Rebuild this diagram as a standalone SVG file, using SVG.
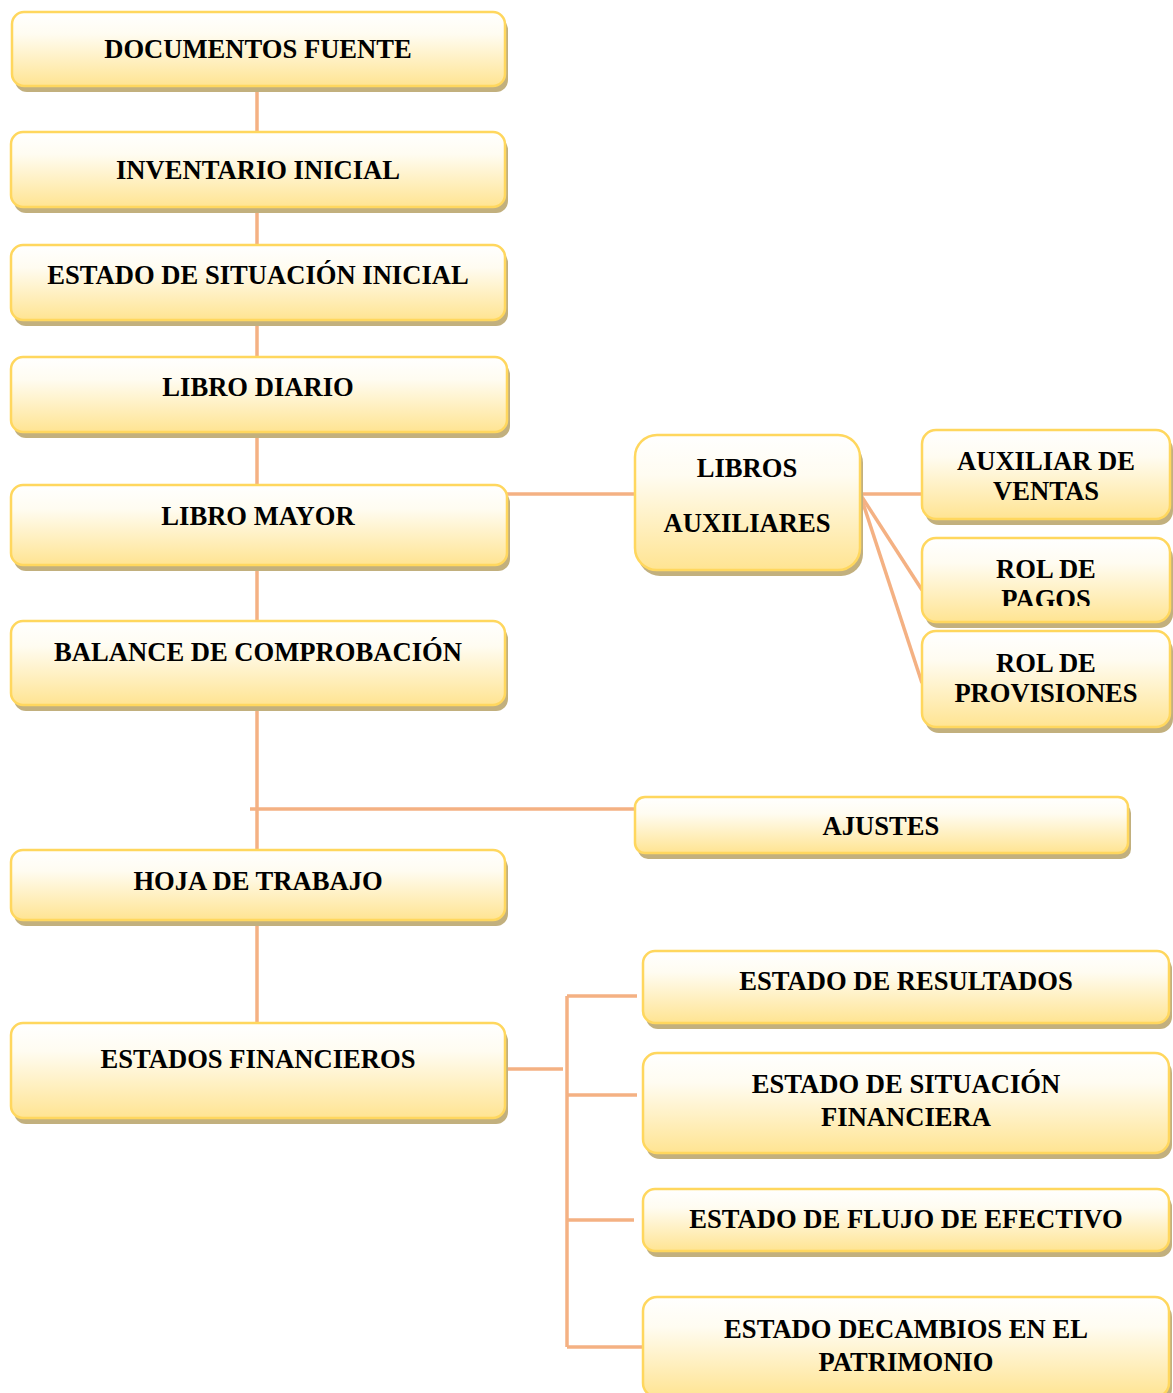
<svg xmlns="http://www.w3.org/2000/svg" width="1173" height="1393" viewBox="0 0 1173 1393">
<defs>
<linearGradient id="g" x1="0" y1="0" x2="0" y2="1">
<stop offset="0" stop-color="#ffffff"/>
<stop offset="0.3" stop-color="#fffcf1"/>
<stop offset="1" stop-color="#ffe492"/>
</linearGradient>
<filter id="sh" x="-5%" y="-10%" width="115%" height="130%">
<feGaussianBlur stdDeviation="0.6"/>
</filter>
<clipPath id="clipPagos"><rect x="922" y="538" width="250" height="68"/></clipPath>
</defs>
<style>
.box{fill:url(#g);stroke:#ffd75e;stroke-width:2.5}
.shd{fill:#c2b07e;filter:url(#sh)}
.t{font-family:"Liberation Serif","Times New Roman",serif;font-weight:bold;font-size:26.6px;fill:#000;text-anchor:middle}
.c{stroke:#f4b183;stroke-width:3.5;fill:none}
</style>
<rect width="1173" height="1393" fill="#ffffff"/>
<g id="connectors">
<line class="c" x1="257" y1="86" x2="257" y2="1023"/>
<line class="c" x1="250" y1="809" x2="636" y2="809"/>
<line class="c" x1="507" y1="494" x2="636" y2="494"/>
<line class="c" x1="860" y1="494" x2="922" y2="494"/>
<line class="c" x1="860" y1="494" x2="922" y2="590"/>
<line class="c" x1="860" y1="494" x2="922" y2="683"/>
<line class="c" x1="507" y1="1069" x2="563" y2="1069"/>
<line class="c" x1="567" y1="996" x2="567" y2="1347"/>
<line class="c" x1="567" y1="996" x2="637" y2="996"/>
<line class="c" x1="567" y1="1095" x2="637" y2="1095"/>
<line class="c" x1="567" y1="1220" x2="634" y2="1220"/>
<line class="c" x1="567" y1="1347" x2="643" y2="1347"/>
</g>
<g id="n1"><rect class="shd" x="15" y="18" width="493" height="74" rx="12"/><rect class="box" x="12" y="12" width="493" height="74" rx="12"/><text class="t" x="258" y="58">DOCUMENTOS FUENTE</text></g>
<g id="n2"><rect class="shd" x="14" y="138" width="494" height="75" rx="12"/><rect class="box" x="11" y="132" width="494" height="75" rx="12"/><text class="t" x="258" y="179">INVENTARIO INICIAL</text></g>
<g id="n3"><rect class="shd" x="14" y="251" width="494" height="75" rx="12"/><rect class="box" x="11" y="245" width="494" height="75" rx="12"/><text class="t" x="258" y="284">ESTADO DE SITUACIÓN INICIAL</text></g>
<g id="n4"><rect class="shd" x="14" y="363" width="496" height="75" rx="12"/><rect class="box" x="11" y="357" width="496" height="75" rx="12"/><text class="t" x="258" y="396">LIBRO DIARIO</text></g>
<g id="n5"><rect class="shd" x="14" y="491" width="496" height="80" rx="12"/><rect class="box" x="11" y="485" width="496" height="80" rx="12"/><text class="t" x="258" y="525">LIBRO MAYOR</text></g>
<g id="n6"><rect class="shd" x="14" y="627" width="494" height="84" rx="12"/><rect class="box" x="11" y="621" width="494" height="84" rx="12"/><text class="t" x="258" y="661">BALANCE DE COMPROBACIÓN</text></g>
<g id="n7"><rect class="shd" x="14" y="856" width="494" height="70" rx="12"/><rect class="box" x="11" y="850" width="494" height="70" rx="12"/><text class="t" x="258" y="890">HOJA DE TRABAJO</text></g>
<g id="n8"><rect class="shd" x="14" y="1029" width="494" height="95" rx="12"/><rect class="box" x="11" y="1023" width="494" height="95" rx="12"/><text class="t" x="258" y="1068">ESTADOS FINANCIEROS</text></g>
<g id="n9"><rect class="shd" x="638" y="441" width="225" height="135" rx="22"/><rect class="box" x="635" y="435" width="225" height="135" rx="22"/><text class="t" x="747" y="477">LIBROS</text><text class="t" x="747" y="532">AUXILIARES</text></g>
<g id="n10"><rect class="shd" x="925" y="436" width="248" height="89" rx="14"/><rect class="box" x="922" y="430" width="248" height="89" rx="14"/><text class="t" x="1046" y="470">AUXILIAR DE</text><text class="t" x="1046" y="500">VENTAS</text></g>
<g id="n11"><rect class="shd" x="925" y="544" width="248" height="84" rx="14"/><rect class="box" x="922" y="538" width="248" height="84" rx="14"/><g clip-path="url(#clipPagos)"><text class="t" x="1046" y="578">ROL DE</text><text class="t" x="1046" y="608">PAGOS</text></g></g>
<g id="n12"><rect class="shd" x="925" y="637" width="248" height="96" rx="14"/><rect class="box" x="922" y="631" width="248" height="96" rx="14"/><text class="t" x="1046" y="672">ROL DE</text><text class="t" x="1046" y="702">PROVISIONES</text></g>
<g id="n13"><rect class="shd" x="638" y="803" width="493" height="56" rx="10"/><rect class="box" x="635" y="797" width="493" height="56" rx="10"/><text class="t" x="881" y="835">AJUSTES</text></g>
<g id="n14"><rect class="shd" x="646" y="957" width="526" height="72" rx="12"/><rect class="box" x="643" y="951" width="526" height="72" rx="12"/><text class="t" x="906" y="990">ESTADO DE RESULTADOS</text></g>
<g id="n15"><rect class="shd" x="646" y="1059" width="526" height="100" rx="14"/><rect class="box" x="643" y="1053" width="526" height="100" rx="14"/><text class="t" x="906" y="1093">ESTADO DE SITUACIÓN</text><text class="t" x="906" y="1126">FINANCIERA</text></g>
<g id="n16"><rect class="shd" x="646" y="1195" width="526" height="62" rx="12"/><rect class="box" x="643" y="1189" width="526" height="62" rx="12"/><text class="t" x="906" y="1228">ESTADO DE FLUJO DE EFECTIVO</text></g>
<g id="n17"><rect class="shd" x="646" y="1303" width="526" height="100" rx="14"/><rect class="box" x="643" y="1297" width="526" height="100" rx="14"/><text class="t" x="906" y="1338">ESTADO DECAMBIOS EN EL</text><text class="t" x="906" y="1371">PATRIMONIO</text></g>
</svg>
